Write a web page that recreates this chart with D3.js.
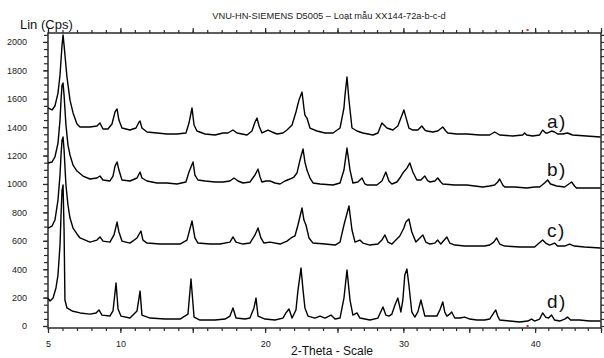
<!DOCTYPE html>
<html><head><meta charset="utf-8">
<script src="https://cdn.jsdelivr.net/npm/d3@7"></script>
<style>
html,body{margin:0;padding:0;background:#fff;}
svg{display:block;font-family:"Liberation Sans",Arial,sans-serif;}
</style></head><body>
<svg id="chart" width="604" height="358"></svg>
<script>
const chartTitle = "VNU-HN-SIEMENS D5005 – Loạt mẫu XX144-72a-b-c-d";
const yTitle = "Lin (Cps)";
const xTitle = "2-Theta - Scale";
const seriesNames = ["a)", "b)", "c)", "d)"];
const xMajorTicks = [5, 10, 15, 20, 25, 30, 35, 40, 45];
const xTickLabels = [5, 10, 20, 30, 40];
const yTickLabels = [0, 200, 400, 600, 800, 1000, 1200, 1400, 1600, 1800, 2000];
const redMarks = [39.43];

const seriesA = [[5.00,1535],[5.28,1521],[5.48,1549],[5.69,1640],[5.83,1767],[5.97,1978],[6.04,2049],[6.11,1978],[6.31,1753],[6.52,1591],[6.73,1500],[7.00,1422],[7.21,1401],[7.90,1401],[8.38,1408],[8.59,1429],[8.80,1387],[9.14,1387],[9.42,1422],[9.63,1507],[9.77,1528],[9.90,1450],[10.11,1394],[10.66,1380],[11.08,1394],[11.29,1436],[11.36,1443],[11.49,1394],[11.84,1366],[12.53,1359],[13.22,1352],[13.91,1352],[14.53,1359],[14.74,1429],[14.95,1535],[15.09,1415],[15.29,1373],[15.85,1352],[16.54,1345],[17.09,1359],[17.43,1359],[17.78,1380],[18.06,1359],[18.75,1345],[19.09,1373],[19.30,1436],[19.44,1464],[19.58,1408],[19.78,1359],[20.20,1380],[20.47,1366],[20.82,1352],[21.23,1359],[21.51,1380],[21.86,1415],[22.13,1507],[22.34,1591],[22.55,1647],[22.68,1535],[22.75,1485],[22.89,1464],[23.10,1394],[23.58,1373],[24.14,1359],[24.69,1359],[25.19,1394],[25.49,1535],[25.57,1626],[25.72,1753],[25.87,1591],[26.10,1394],[26.48,1373],[26.93,1359],[27.69,1345],[28.07,1359],[28.37,1429],[28.60,1408],[28.75,1394],[29.20,1380],[29.58,1408],[29.81,1464],[30.04,1521],[30.19,1471],[30.42,1394],[30.72,1380],[31.10,1380],[31.40,1408],[31.63,1380],[31.78,1373],[32.23,1366],[32.61,1373],[32.99,1401],[33.22,1373],[33.37,1359],[34.05,1352],[34.81,1352],[35.80,1345],[36.55,1345],[36.93,1366],[37.31,1345],[38.30,1338],[39.05,1345],[39.20,1359],[39.36,1345],[39.81,1338],[40.34,1345],[40.57,1380],[40.80,1359],[40.95,1359],[41.25,1373],[41.48,1366],[41.70,1352],[42.08,1352],[42.46,1359],[42.84,1345],[43.90,1338],[44.96,1331]];

const seriesB = [[5.00,1148],[5.28,1155],[5.48,1190],[5.69,1288],[5.83,1450],[5.90,1591],[5.97,1697],[6.04,1711],[6.11,1626],[6.24,1415],[6.38,1274],[6.52,1204],[6.73,1133],[7.00,1091],[7.42,1056],[7.90,1035],[8.38,1042],[8.59,1056],[8.80,1028],[9.28,1021],[9.49,1056],[9.63,1126],[9.77,1155],[9.90,1098],[10.11,1028],[10.66,1021],[11.15,1042],[11.36,1084],[11.49,1042],[11.84,1021],[12.53,1007],[13.22,1007],[13.91,1000],[14.53,1014],[14.74,1084],[15.02,1155],[15.15,1063],[15.36,1028],[15.85,1021],[16.54,1014],[17.09,1014],[17.57,1021],[17.85,1042],[18.13,1021],[18.47,1007],[18.95,1014],[19.30,1063],[19.51,1105],[19.65,1049],[19.78,1014],[20.06,1021],[20.34,1021],[20.68,1007],[21.03,1000],[21.37,1021],[21.72,1035],[21.99,1049],[22.20,1077],[22.41,1169],[22.62,1246],[22.75,1155],[22.89,1098],[23.10,1042],[23.31,1007],[23.79,1000],[24.69,993],[25.19,1007],[25.49,1098],[25.72,1253],[25.95,1098],[26.17,1007],[26.55,1014],[26.86,1042],[27.08,1000],[27.23,993],[27.99,993],[28.37,1021],[28.67,1084],[28.90,1021],[29.13,1000],[29.51,1014],[29.73,1042],[29.96,1077],[30.27,1112],[30.49,1148],[30.72,1084],[31.02,1028],[31.33,1028],[31.63,1056],[31.86,1021],[32.01,1014],[32.39,1021],[32.61,1042],[32.84,1014],[32.99,1000],[33.90,993],[34.81,993],[35.42,986],[36.02,979],[36.55,986],[36.93,993],[37.16,1014],[37.31,1035],[37.54,993],[37.69,979],[38.45,979],[39.36,972],[39.96,979],[40.34,979],[40.72,1007],[40.95,1028],[41.17,1000],[41.63,986],[42.24,979],[42.77,1014],[42.99,986],[43.14,972],[44.13,972],[44.96,972]];

const seriesC = [[5.00,690],[5.28,704],[5.48,746],[5.69,887],[5.83,1063],[5.90,1204],[5.97,1309],[6.04,1331],[6.11,1239],[6.24,993],[6.38,852],[6.52,760],[6.73,690],[7.00,648],[7.21,620],[7.90,591],[8.38,605],[8.59,627],[8.80,598],[9.28,591],[9.56,641],[9.77,732],[9.90,662],[10.11,598],[10.66,584],[11.15,620],[11.42,669],[11.56,605],[11.84,584],[12.74,577],[13.43,577],[14.12,577],[14.60,605],[14.95,739],[15.15,620],[15.36,584],[16.19,577],[16.88,577],[17.57,591],[17.78,627],[17.99,591],[18.47,577],[18.95,584],[19.30,641],[19.51,690],[19.71,620],[19.92,584],[20.34,591],[21.03,577],[21.51,598],[21.79,620],[22.06,634],[22.27,711],[22.55,831],[22.68,746],[22.82,711],[23.03,620],[23.31,584],[24.14,577],[24.83,570],[25.19,591],[25.49,711],[25.87,845],[26.10,676],[26.33,591],[26.70,605],[26.93,584],[27.46,570],[28.07,577],[28.37,605],[28.60,641],[28.83,591],[29.13,577],[29.43,605],[29.73,634],[30.04,690],[30.19,732],[30.42,753],[30.64,662],[30.95,591],[31.25,620],[31.48,641],[31.70,591],[32.01,577],[32.39,584],[32.61,605],[32.84,577],[33.30,627],[33.52,584],[33.90,570],[34.66,563],[35.42,563],[36.17,563],[36.55,570],[36.86,591],[37.08,620],[37.31,577],[37.69,563],[38.83,556],[39.96,556],[40.57,605],[40.80,584],[41.10,570],[41.48,584],[41.70,563],[42.24,563],[42.61,577],[42.99,563],[43.75,556],[44.96,549]];

const seriesD = [[5.00,197],[5.14,176],[5.35,197],[5.55,268],[5.69,359],[5.83,570],[5.90,781],[5.97,957],[6.04,993],[6.11,676],[6.17,183],[6.31,127],[6.66,106],[7.21,92],[7.90,84],[8.32,92],[8.52,113],[8.73,77],[9.28,70],[9.49,106],[9.70,303],[9.84,120],[10.04,70],[10.66,56],[11.15,106],[11.36,246],[11.49,77],[12.05,56],[13.08,49],[14.12,49],[14.67,84],[14.88,331],[15.09,63],[15.50,42],[16.54,42],[17.23,49],[17.57,70],[17.78,127],[17.99,56],[18.61,49],[18.95,56],[19.23,127],[19.37,197],[19.51,70],[19.99,49],[20.68,42],[21.23,56],[21.44,92],[21.65,120],[21.86,56],[22.13,113],[22.27,253],[22.48,408],[22.62,253],[22.75,127],[22.96,70],[23.44,56],[23.79,70],[24.14,56],[24.55,77],[24.83,49],[25.19,56],[25.49,197],[25.72,394],[25.95,183],[26.17,77],[26.48,92],[26.70,56],[27.46,42],[28.07,56],[28.45,134],[28.67,77],[28.90,70],[29.13,84],[29.36,148],[29.58,197],[29.81,99],[29.96,183],[30.11,359],[30.27,401],[30.42,289],[30.64,99],[30.87,63],[31.10,99],[31.33,183],[31.48,127],[31.63,70],[32.01,70],[32.54,70],[32.77,113],[32.99,169],[33.14,99],[33.30,70],[33.52,84],[33.67,99],[33.90,56],[34.28,56],[34.66,63],[35.04,49],[35.57,42],[36.17,42],[36.55,49],[36.86,92],[37.01,113],[37.16,70],[37.31,42],[38.07,35],[38.83,28],[39.43,35],[39.74,49],[39.96,35],[40.34,49],[40.57,92],[40.80,63],[41.02,56],[41.25,77],[41.48,42],[41.86,35],[42.24,49],[42.46,63],[42.69,42],[43.37,42],[44.13,35],[44.96,35]];

const allSeries = [seriesA, seriesB, seriesC, seriesD];

const svg = d3.select("#chart");
const L = 48, R = 601, T = 33, B = 328;
const x = d3.scaleLinear().domain([5, 25, 45]).range([L, 337.5, R]);
const y = d3.scaleLinear().domain([-14, 2063]).range([B, T]);
const axisColor = "#2a2a2a";

const xMinor = d3.range(5, 45.01, 1);
const yMinor = d3.range(0, 2050.01, 50);

function styleAxis(g){
  g.select(".domain").remove();
  g.selectAll(".tick line").attr("stroke", axisColor).attr("stroke-width", 1.2);
  g.selectAll(".tick text").attr("fill", "#222").style("font-size", "9px");
}

svg.append("g").attr("transform", `translate(0,${B})`)
  .call(d3.axisBottom(x).tickValues(xMinor).tickSize(3).tickFormat(""))
  .call(styleAxis);
svg.append("g").attr("transform", `translate(0,${B})`)
  .call(d3.axisBottom(x).tickValues(xMajorTicks).tickSize(5).tickPadding(8)
    .tickFormat(d => xTickLabels.includes(d) ? d : ""))
  .call(styleAxis);
svg.append("g").attr("transform", `translate(0,${T})`)
  .call(d3.axisTop(x).tickValues(xMinor).tickSize(3).tickFormat(""))
  .call(styleAxis);
svg.append("g").attr("transform", `translate(0,${T})`)
  .call(d3.axisTop(x).tickValues(xMajorTicks).tickSize(5).tickFormat(""))
  .call(styleAxis);
svg.append("g").attr("transform", `translate(${L},0)`)
  .call(d3.axisLeft(y).tickValues(yMinor).tickSize(4).tickFormat(""))
  .call(styleAxis);
svg.append("g").attr("transform", `translate(${L},0)`)
  .call(d3.axisLeft(y).tickValues(yTickLabels).tickSize(5).tickPadding(16).tickFormat(d => d))
  .call(styleAxis);
svg.append("g").attr("transform", `translate(${R},0)`)
  .call(d3.axisRight(y).tickValues(yMinor).tickSize(4).tickFormat(""))
  .call(styleAxis);

svg.append("rect").attr("x", L).attr("y", T).attr("width", R - L).attr("height", B - T)
  .attr("fill", "none").attr("stroke", axisColor).attr("stroke-width", 1.5);

svg.selectAll(".redTop").data(redMarks).join("rect")
  .attr("x", d => x(d) - 1).attr("y", T - 4).attr("width", 2).attr("height", 2).attr("fill", "#e02020");
svg.selectAll(".redBot").data(redMarks).join("rect")
  .attr("x", d => x(d) - 1).attr("y", B - 3).attr("width", 2).attr("height", 2).attr("fill", "#e02020");

const line = d3.line().x(d => x(d[0])).y(d => y(d[1]));
svg.append("g").selectAll("path").data(allSeries).join("path")
  .attr("d", line).attr("fill", "none").attr("stroke", "#000")
  .attr("stroke-width", 1.4).attr("stroke-linejoin", "round");

svg.append("text").attr("x", 329).attr("y", 19).attr("text-anchor", "middle")
  .style("font-size", "9.3px").attr("fill", "#222").text(chartTitle);
svg.append("text").attr("x", 20).attr("y", 29).style("font-size", "13px").attr("fill", "#111").text(yTitle);
svg.append("text").attr("x", 332).attr("y", 355).attr("text-anchor", "middle")
  .style("font-size", "12px").attr("fill", "#111").text(xTitle);

const labelBase = [128, 176, 237, 308];
svg.selectAll(".slabel").data(seriesNames).join("text")
  .attr("x", 547).attr("y", (d, i) => labelBase[i])
  .style("font-size", "19px").style("letter-spacing", "1.5px").attr("fill", "#111").text(d => d);
</script>
</body></html>
